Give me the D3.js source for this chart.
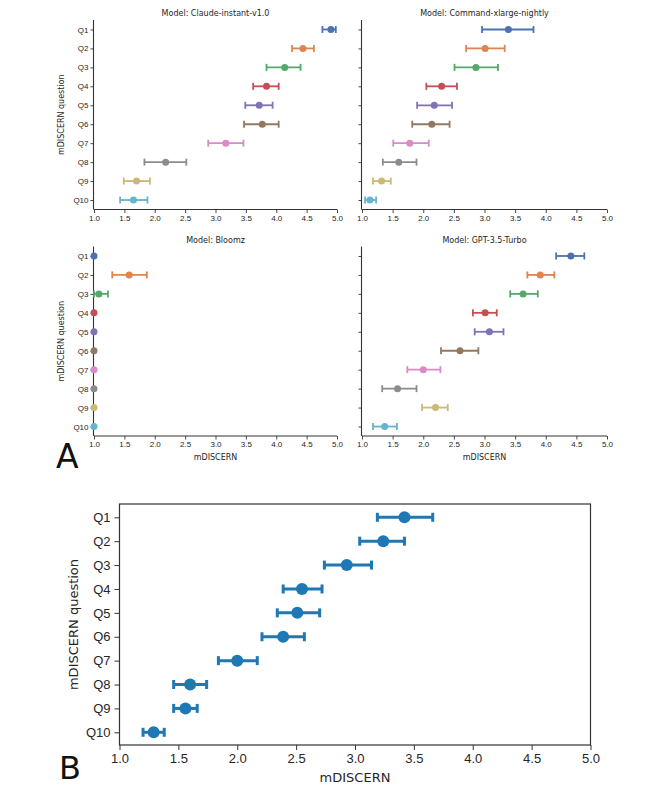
<!DOCTYPE html>
<html><head><meta charset="utf-8">
<script src="https://cdn.jsdelivr.net/npm/d3@7"></script>
<style>body{margin:0;background:#fff}svg{display:block;font-family:"DejaVu Sans",sans-serif}</style>
</head><body><svg id="c" width="666" height="786"></svg>
<script>
const questions = ["Q1","Q2","Q3","Q4","Q5","Q6","Q7","Q8","Q9","Q10"];
const xTicks = [1.0,1.5,2.0,2.5,3.0,3.5,4.0,4.5,5.0];
const palette = ["#4c72b0","#dd8452","#55a868","#c44e52","#8172b3","#937860","#da8bc3","#8c8c8c","#ccb974","#64b5cd"];

const modelNames = ["Claude-instant-v1.0","Command-xlarge-nightly","Bloomz","GPT-3.5-Turbo"];

const claudeMean = [4.90,4.44,4.14,3.84,3.72,3.77,3.17,2.18,1.70,1.65];
const claudeLo   = [4.76,4.26,3.84,3.62,3.49,3.47,2.88,1.83,1.49,1.43];
const claudeHi   = [4.98,4.62,4.40,4.04,3.94,4.04,3.46,2.52,1.92,1.88];

const commandMean = [3.39,3.01,2.86,2.30,2.18,2.14,1.78,1.60,1.32,1.13];
const commandLo   = [2.96,2.70,2.51,2.05,1.90,1.82,1.51,1.34,1.18,1.05];
const commandHi   = [3.80,3.33,3.22,2.55,2.47,2.43,2.09,1.89,1.47,1.23];

const bloomzMean = [1.00,1.58,1.08,1.00,1.00,1.00,1.00,1.00,1.00,1.00];
const bloomzLo   = [1.00,1.30,1.00,1.00,1.00,1.00,1.00,1.00,1.00,1.00];
const bloomzHi   = [1.00,1.87,1.23,1.00,1.00,1.00,1.00,1.00,1.00,1.00];

const gptMean = [4.41,3.91,3.63,3.01,3.08,2.60,2.00,1.58,2.20,1.37];
const gptLo   = [4.17,3.70,3.42,2.81,2.84,2.29,1.74,1.33,1.98,1.18];
const gptHi   = [4.63,4.14,3.87,3.20,3.31,2.90,2.28,1.89,2.40,1.57];

const allMean = [3.42,3.24,2.93,2.55,2.51,2.39,2.00,1.60,1.56,1.29];
const allLo   = [3.19,3.04,2.74,2.39,2.34,2.21,1.84,1.46,1.46,1.20];
const allHi   = [3.66,3.42,3.14,2.72,2.70,2.57,2.17,1.74,1.66,1.38];

const svg = d3.select("#c");
const txt = "#262626";

const panels = [
  {name:modelNames[0], mean:claudeMean, lo:claudeLo, hi:claudeHi, x0:94, x1:337, y0:20, y1:209.5, ylab:true, xlab:false},
  {name:modelNames[1], mean:commandMean, lo:commandLo, hi:commandHi, x0:362, x1:607, y0:20, y1:209.5, ylab:false, xlab:false},
  {name:modelNames[2], mean:bloomzMean, lo:bloomzLo, hi:bloomzHi, x0:94, x1:337, y0:246.5, y1:436, ylab:true, xlab:true},
  {name:modelNames[3], mean:gptMean, lo:gptLo, hi:gptHi, x0:362, x1:607, y0:246.5, y1:436, ylab:false, xlab:true}
];

panels.forEach(p => {
  const x = d3.scaleLinear().domain([1,5]).range([p.x0,p.x1]);
  const y = d3.scalePoint().domain(questions).range([p.y0,p.y1]).padding(0.5);
  const g = svg.append("g");
  // axes
  const xa = g.append("g").attr("transform",`translate(0,${p.y1})`)
    .call(d3.axisBottom(x).tickValues(xTicks).tickFormat(d3.format(".1f")).tickSize(3.5).tickPadding(2));
  const ya = g.append("g").attr("transform",`translate(${p.x0},0)`)
    .call(d3.axisLeft(y).tickSize(3.5).tickPadding(2).tickFormat(p.ylab ? (d=>d) : (()=>"")));
  [xa,ya].forEach(a=>{
    a.select(".domain").attr("stroke","#333").attr("stroke-width",1.1);
    a.selectAll(".tick line").attr("stroke","#333").attr("stroke-width",0.9);
    a.selectAll("text").attr("fill",txt).attr("font-size",8);
  });
  ya.select(".domain").attr("d",`M-0.5,${p.y0}V${p.y1}`);
  xa.select(".domain").attr("d",`M${p.x0},0H${p.x1}`);
  // title
  g.append("text").attr("x",(p.x0+p.x1)/2).attr("y",p.y0-4).attr("text-anchor","middle")
    .attr("font-size",8).attr("fill",txt).text("Model: "+p.name);
  if (p.ylab) g.append("text").attr("transform",`translate(${p.x0-30},${(p.y0+p.y1)/2}) rotate(-90)`)
    .attr("text-anchor","middle").attr("font-size",8).attr("fill",txt).text("mDISCERN question");
  if (p.xlab) g.append("text").attr("x",(p.x0+p.x1)/2).attr("y",p.y1+24).attr("text-anchor","middle")
    .attr("font-size",8).attr("fill",txt).text("mDISCERN");
  // error bars
  const d = questions.map((q,i)=>({q, m:p.mean[i], lo:p.lo[i], hi:p.hi[i], c:palette[i]}));
  const eb = g.append("g").selectAll("g").data(d).join("g").attr("stroke",e=>e.c).attr("stroke-width",1.8);
  eb.append("line").attr("x1",e=>x(e.lo)).attr("x2",e=>x(e.hi)).attr("y1",e=>y(e.q)).attr("y2",e=>y(e.q));
  eb.filter(e=>e.hi>e.lo).append("line").attr("x1",e=>x(e.lo)).attr("x2",e=>x(e.lo)).attr("y1",e=>y(e.q)-3.5).attr("y2",e=>y(e.q)+3.5);
  eb.filter(e=>e.hi>e.lo).append("line").attr("x1",e=>x(e.hi)).attr("x2",e=>x(e.hi)).attr("y1",e=>y(e.q)-3.5).attr("y2",e=>y(e.q)+3.5);
  eb.append("circle").attr("cx",e=>x(e.m)).attr("cy",e=>y(e.q)).attr("r",3.5).attr("fill",e=>e.c).attr("stroke","none");
});

svg.append("text").attr("x",56).attr("y",468).attr("font-size",33).attr("fill","#111").text("A");

// Panel B
{
  const x0=119.5, x1=590.5, y0=504, y1=745;
  const x = d3.scaleLinear().domain([1,5]).range([x0,x1]);
  const y = d3.scalePoint().domain(questions).range([517.3,732.3]);
  const g = svg.append("g");
  g.append("rect").attr("x",x0).attr("y",y0).attr("width",x1-x0).attr("height",y1-y0)
    .attr("fill","none").attr("stroke","#333").attr("stroke-width",1.2);
  const xa = g.append("g").attr("transform",`translate(0,${y1})`)
    .call(d3.axisBottom(x).tickValues(xTicks).tickFormat(d3.format(".1f")).tickSize(5).tickPadding(4));
  const ya = g.append("g").attr("transform",`translate(${x0},0)`)
    .call(d3.axisLeft(y).tickSize(5).tickPadding(4));
  [xa,ya].forEach(a=>{
    a.select(".domain").remove();
    a.selectAll(".tick line").attr("stroke","#333").attr("stroke-width",1);
    a.selectAll("text").attr("fill",txt).attr("font-size",13);
  });
  g.append("text").attr("transform",`translate(78,${(y0+y1)/2}) rotate(-90)`)
    .attr("text-anchor","middle").attr("font-size",13).attr("fill",txt).text("mDISCERN question");
  g.append("text").attr("x",(x0+x1)/2).attr("y",782).attr("text-anchor","middle")
    .attr("font-size",13).attr("fill",txt).text("mDISCERN");
  const d = questions.map((q,i)=>({q, m:allMean[i], lo:allLo[i], hi:allHi[i]}));
  const c = "#1f77b4";
  const eb = g.append("g").selectAll("g").data(d).join("g").attr("stroke",c).attr("stroke-width",3);
  eb.append("line").attr("x1",e=>x(e.lo)).attr("x2",e=>x(e.hi)).attr("y1",e=>y(e.q)).attr("y2",e=>y(e.q));
  eb.append("line").attr("x1",e=>x(e.lo)).attr("x2",e=>x(e.lo)).attr("y1",e=>y(e.q)-4.5).attr("y2",e=>y(e.q)+4.5);
  eb.append("line").attr("x1",e=>x(e.hi)).attr("x2",e=>x(e.hi)).attr("y1",e=>y(e.q)-4.5).attr("y2",e=>y(e.q)+4.5);
  eb.append("circle").attr("cx",e=>x(e.m)).attr("cy",e=>y(e.q)).attr("r",6).attr("fill",c).attr("stroke","none");
  svg.append("text").attr("x",59).attr("y",779).attr("font-size",32).attr("fill","#111").text("B");
}
</script></body></html>
